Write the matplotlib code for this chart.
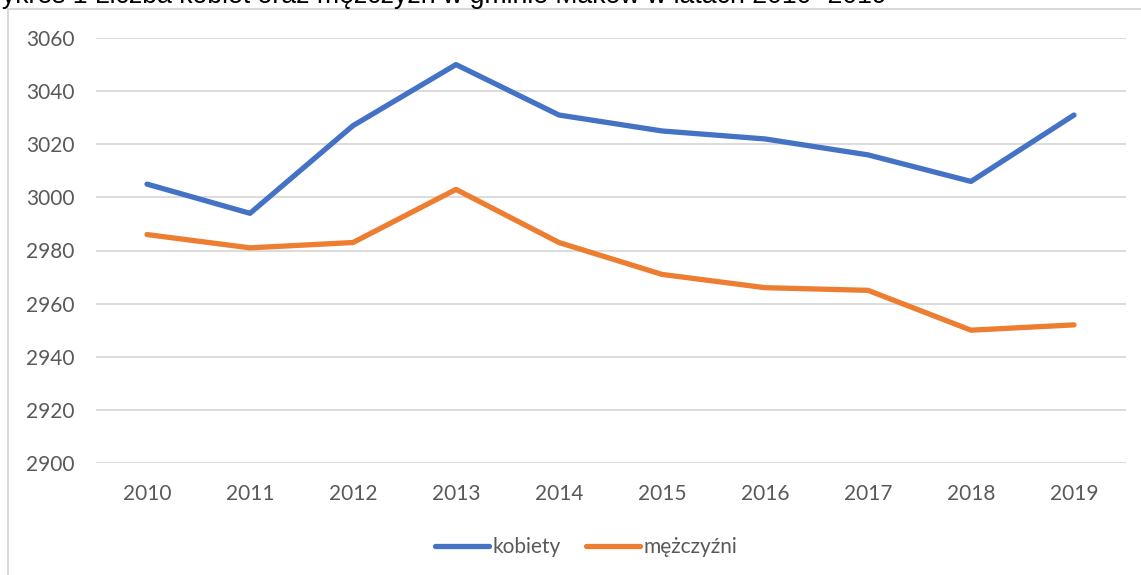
import matplotlib
matplotlib.use("Agg")
import matplotlib.pyplot as plt
from matplotlib.patches import Rectangle

years = ["2010", "2011", "2012", "2013", "2014", "2015", "2016", "2017", "2018", "2019"]
kobiety = [3005, 2994, 3027, 3050, 3031, 3025, 3022, 3016, 3006, 3031]
mezczyzni = [2986, 2981, 2983, 3003, 2983, 2971, 2966, 2965, 2950, 2952]
yticks = [2900, 2920, 2940, 2960, 2980, 3000, 3020, 3040, 3060]
title = "Wykres 1 Liczba kobiet oraz mężczyzn w gminie Maków w latach 2010- 2019"

W, H = 1141, 575
fig = plt.figure(figsize=(W / 100, H / 100), dpi=100)
fig.patch.set_facecolor("white")

# outer chart frame (extends beyond right/bottom edges)
fig.add_artist(Rectangle((8 / W, -0.1), 1.2, (H - 9) / H + 0.1, transform=fig.transFigure,
                         fill=False, edgecolor="#D9D9D9", linewidth=1.5))

fig.text(-23 / W, 1 - 3 / H, title, fontsize=19.2, family="Liberation Sans",
         ha="left", va="baseline", color="#000000")

ax = fig.add_axes([95.5 / W, 1 - 463 / H, (1125.5 - 95.5) / W, (463 - 38) / H])
x = list(range(len(years)))
ax.plot(x, kobiety, color="#4472C4", linewidth=3.8, solid_capstyle="round", solid_joinstyle="round", label="kobiety")
ax.plot(x, mezczyzni, color="#ED7D31", linewidth=3.8, solid_capstyle="round", solid_joinstyle="round", label="mężczyźni")
ax.set_xlim(-0.5, len(years) - 0.5)
ax.set_ylim(2900, 3060)
ax.set_yticks(yticks)
ax.set_xticks(x)
ax.set_xticklabels(years)
ax.grid(axis="y", color="#D9D9D9", linewidth=1.3)
ax.set_axisbelow(True)
for s in ax.spines.values():
    s.set_visible(False)
ax.tick_params(length=0, labelsize=15, colors="#595959")
ax.tick_params(axis="x", pad=15)
ax.tick_params(axis="y", pad=15)
for lab in ax.get_xticklabels() + ax.get_yticklabels():
    lab.set_family("Lato")

leg = fig.legend(loc="center", bbox_to_anchor=(586 / W, 1 - 547 / H), ncol=2, frameon=False,
                 prop={"family": "Lato", "size": 15}, handlelength=2.6, handletextpad=0.15,
                 columnspacing=1.2)
for t in leg.get_texts():
    t.set_color("#595959")

fig.savefig("out.png", dpi=100)
